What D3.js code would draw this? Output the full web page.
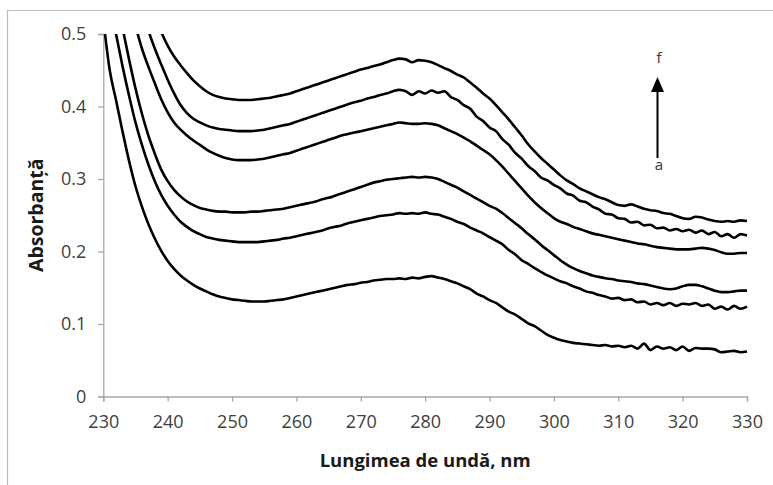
<!DOCTYPE html>
<html>
<head>
<meta charset="utf-8">
<script src="https://cdn.jsdelivr.net/npm/d3@7"></script>
<style>
  body { margin: 0; background: #fff; }
  svg { display: block; font-family: "Open Sans", sans-serif; }
</style>
</head>
<body>
<div id="chart"></div>
<script>
// lungimi de unda (nm)
var wavelengths = [230,231,232,233,234,235,236,237,238,239,240,241,242,243,244,245,246,247,248,249,
  250,251,252,253,254,255,256,257,258,259,260,261,262,263,264,265,266,267,268,269,
  270,271,272,273,274,275,276,277,278,279,280,281,282,283,284,285,286,287,288,289,
  290,291,292,293,294,295,296,297,298,299,300,301,302,303,304,305,306,307,308,309,
  310,311,312,313,314,315,316,317,318,319,320,321,322,323,324,325,326,327,328,329,330];

var curveA = [0.520,0.450,0.408,0.365,0.325,0.290,0.262,0.238,0.218,0.201,0.187,0.176,0.167,0.160,0.154,0.149,0.145,0.141,0.138,0.136,
  0.134,0.133,0.132,0.131,0.131,0.131,0.132,0.133,0.134,0.136,0.138,0.140,0.142,0.144,0.146,0.148,0.150,0.152,0.154,0.155,
  0.157,0.158,0.160,0.161,0.162,0.162,0.163,0.162,0.164,0.163,0.165,0.166,0.164,0.162,0.159,0.156,0.152,0.148,0.142,0.138,
  0.133,0.129,0.123,0.117,0.113,0.107,0.101,0.097,0.091,0.085,0.081,0.078,0.076,0.074,0.073,0.072,0.071,0.070,0.071,0.069,
  0.070,0.068,0.070,0.066,0.073,0.064,0.069,0.066,0.068,0.064,0.069,0.063,0.067,0.066,0.066,0.065,0.061,0.062,0.063,0.061,0.062];

var curveB = [0.585,0.545,0.499,0.455,0.415,0.378,0.347,0.320,0.297,0.278,0.263,0.251,0.241,0.234,0.228,0.224,0.220,0.218,0.216,0.215,
  0.214,0.213,0.213,0.213,0.213,0.214,0.215,0.216,0.218,0.219,0.221,0.223,0.225,0.227,0.229,0.232,0.234,0.236,0.239,0.241,
  0.243,0.245,0.247,0.249,0.250,0.251,0.253,0.252,0.253,0.252,0.254,0.252,0.251,0.248,0.245,0.241,0.238,0.233,0.229,0.225,
  0.220,0.215,0.210,0.202,0.196,0.188,0.183,0.177,0.172,0.167,0.163,0.159,0.156,0.152,0.149,0.145,0.143,0.140,0.138,0.135,
  0.136,0.133,0.134,0.130,0.131,0.127,0.129,0.126,0.129,0.125,0.128,0.127,0.129,0.125,0.127,0.121,0.124,0.120,0.125,0.121,0.124];

var curveC = [0.650,0.600,0.550,0.508,0.465,0.425,0.390,0.360,0.335,0.313,0.297,0.285,0.276,0.269,0.264,0.260,0.258,0.256,0.255,0.255,
  0.254,0.254,0.254,0.255,0.255,0.256,0.257,0.258,0.259,0.261,0.263,0.265,0.267,0.269,0.272,0.274,0.277,0.280,0.283,0.286,
  0.289,0.292,0.295,0.297,0.299,0.300,0.301,0.302,0.303,0.302,0.303,0.302,0.300,0.296,0.292,0.288,0.283,0.278,0.273,0.268,
  0.263,0.259,0.253,0.246,0.239,0.232,0.224,0.217,0.209,0.202,0.195,0.188,0.182,0.177,0.173,0.170,0.167,0.165,0.163,0.162,
  0.160,0.159,0.158,0.156,0.155,0.153,0.151,0.149,0.148,0.149,0.152,0.154,0.154,0.152,0.149,0.146,0.144,0.144,0.145,0.146,0.146];

var curveD = [0.750,0.700,0.650,0.600,0.553,0.512,0.480,0.455,0.432,0.410,0.392,0.378,0.368,0.360,0.353,0.347,0.341,0.336,0.332,0.329,
  0.327,0.326,0.326,0.326,0.327,0.328,0.330,0.332,0.334,0.336,0.339,0.342,0.345,0.348,0.351,0.354,0.357,0.360,0.362,0.364,
  0.366,0.368,0.370,0.372,0.374,0.376,0.378,0.377,0.376,0.376,0.377,0.376,0.374,0.370,0.366,0.362,0.357,0.352,0.346,0.340,
  0.334,0.326,0.317,0.307,0.297,0.287,0.277,0.268,0.260,0.253,0.246,0.241,0.238,0.234,0.231,0.228,0.225,0.223,0.221,0.219,
  0.217,0.215,0.213,0.211,0.210,0.208,0.206,0.205,0.204,0.203,0.203,0.203,0.204,0.205,0.204,0.202,0.199,0.197,0.197,0.198,0.198];

var curveE = [0.820,0.770,0.720,0.670,0.620,0.575,0.537,0.505,0.480,0.458,0.437,0.418,0.402,0.391,0.383,0.378,0.374,0.371,0.369,0.368,
  0.367,0.366,0.366,0.366,0.367,0.368,0.370,0.372,0.374,0.376,0.379,0.382,0.385,0.388,0.391,0.394,0.397,0.400,0.403,0.406,
  0.408,0.411,0.413,0.416,0.418,0.421,0.423,0.421,0.416,0.421,0.418,0.422,0.419,0.421,0.413,0.409,0.402,0.397,0.386,0.380,
  0.371,0.366,0.355,0.347,0.336,0.328,0.318,0.311,0.302,0.298,0.292,0.287,0.280,0.277,0.270,0.268,0.262,0.258,0.252,0.251,
  0.246,0.245,0.240,0.241,0.236,0.237,0.232,0.233,0.229,0.231,0.228,0.230,0.226,0.229,0.224,0.227,0.221,0.224,0.219,0.224,0.222];

var curveF = [0.880,0.830,0.780,0.730,0.680,0.635,0.598,0.565,0.530,0.503,0.484,0.469,0.457,0.446,0.436,0.428,0.421,0.416,0.413,0.411,
  0.410,0.409,0.409,0.409,0.410,0.411,0.412,0.414,0.416,0.418,0.421,0.424,0.427,0.430,0.433,0.436,0.439,0.442,0.445,0.448,
  0.451,0.453,0.456,0.458,0.461,0.464,0.466,0.465,0.461,0.464,0.463,0.461,0.457,0.453,0.449,0.444,0.440,0.433,0.426,0.418,
  0.411,0.402,0.392,0.382,0.371,0.360,0.348,0.338,0.329,0.321,0.313,0.305,0.298,0.293,0.287,0.283,0.279,0.275,0.272,0.268,
  0.264,0.263,0.265,0.262,0.259,0.257,0.256,0.253,0.252,0.249,0.246,0.245,0.248,0.247,0.244,0.242,0.241,0.242,0.241,0.243,0.242];

var seriesNames = ['a', 'b', 'c', 'd', 'e', 'f'];
var seriesValues = [curveA, curveB, curveC, curveD, curveE, curveF];
var xTicks = [230, 240, 250, 260, 270, 280, 290, 300, 310, 320, 330];
var yTicks = [0, 0.1, 0.2, 0.3, 0.4, 0.5];
var xTitle = 'Lungimea de undă, nm';
var yTitle = 'Absorbanță';

var width = 773, height = 485;
var plotLeft = 103.3, plotRight = 747, plotTop = 34, plotBottom = 396.5;
var axisColor = '#a6a6a6', textColor = '#404040';

var svg = d3.select('#chart').append('svg').attr('width', width).attr('height', height);

// chenarul graficului (doar sus si stanga se vad)
svg.append('path')
  .attr('d', 'M7.5,' + (height + 5) + 'V10.5H' + (width + 5))
  .attr('fill', 'none')
  .attr('stroke', '#b4bcc8')
  .attr('stroke-width', 1.2);

var x = d3.scaleLinear().domain([230, 330]).range([plotLeft, plotRight]);
var y = d3.scaleLinear().domain([0, 0.5]).range([plotBottom, plotTop]);

// axa x
var gx = svg.append('g')
  .attr('transform', 'translate(0,' + plotBottom + ')')
  .call(d3.axisBottom(x).tickValues(xTicks).tickSize(5).tickPadding(14).tickFormat(d3.format('d')));
// axa y
var gy = svg.append('g')
  .attr('transform', 'translate(' + plotLeft + ',0)')
  .call(d3.axisLeft(y).tickValues(yTicks).tickSize(5).tickPadding(12).tickFormat(function(d) { return d === 0 ? '0' : d3.format('.1f')(d); }));

[gx, gy].forEach(function(g) {
  g.select('.domain').attr('stroke', axisColor).attr('stroke-width', 1.3);
  g.selectAll('.tick line').attr('stroke', axisColor).attr('stroke-width', 1.3);
  g.selectAll('.tick text')
    .attr('fill', textColor)
    .style('font-family', '"Open Sans", sans-serif')
    .style('font-size', '18px');
});

// titluri axe
svg.append('text')
  .attr('x', (plotLeft + plotRight) / 2)
  .attr('y', 467)
  .attr('text-anchor', 'middle')
  .attr('font-size', 18.5)
  .attr('font-weight', 'bold')
  .attr('fill', '#1a1a1a')
  .text(xTitle);

svg.append('text')
  .attr('transform', 'translate(43,' + ((plotTop + plotBottom) / 2) + ') rotate(-90)')
  .attr('text-anchor', 'middle')
  .attr('font-size', 19.5)
  .attr('font-weight', 'bold')
  .attr('fill', '#1a1a1a')
  .text(yTitle);

// zona de desenare, taiata la 0.5
svg.append('clipPath').attr('id', 'plotclip')
  .append('rect')
  .attr('x', plotLeft)
  .attr('y', y(0.5))
  .attr('width', plotRight - plotLeft + 4)
  .attr('height', y(0) - y(0.5));

var line = d3.line()
  .x(function(d) { return x(d[0]); })
  .y(function(d) { return y(d[1]); })
  .curve(d3.curveMonotoneX);

svg.append('g').attr('clip-path', 'url(#plotclip)')
  .selectAll('path')
  .data(seriesValues)
  .enter().append('path')
  .attr('class', function(d, i) { return 'curve-' + seriesNames[i]; })
  .attr('d', function(vals) {
    return line(wavelengths.map(function(w, i) { return [w, vals[i]]; }));
  })
  .attr('fill', 'none')
  .attr('stroke', '#000')
  .attr('stroke-width', 2.6)
  .attr('stroke-linejoin', 'round');

// sageata a -> f
svg.append('line')
  .attr('x1', 657.5).attr('x2', 657.5)
  .attr('y1', 158).attr('y2', 90)
  .attr('stroke', '#000')
  .attr('stroke-width', 2);
svg.append('path')
  .attr('d', 'M657.5,77L664,92L651,92Z')
  .attr('fill', '#000');

svg.append('text')
  .attr('x', 659).attr('y', 63)
  .attr('text-anchor', 'middle')
  .attr('font-size', 15)
  .attr('fill', '#333')
  .text(seriesNames[seriesNames.length - 1]);
svg.append('text')
  .attr('x', 659).attr('y', 170)
  .attr('text-anchor', 'middle')
  .attr('font-size', 15)
  .attr('fill', '#333')
  .text(seriesNames[0]);
</script>
</body>
</html>
